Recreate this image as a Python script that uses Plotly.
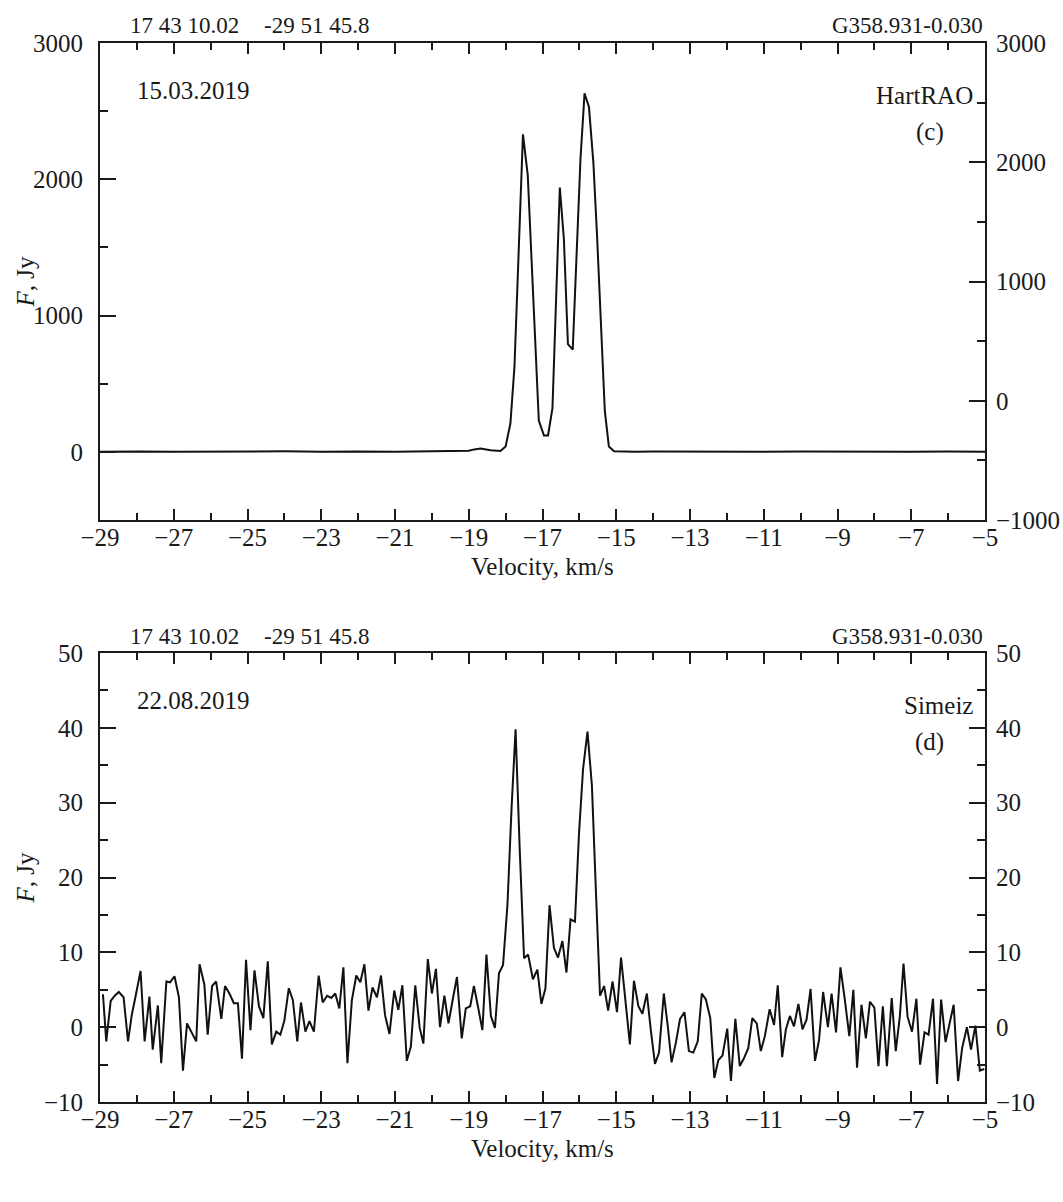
import plotly.graph_objects as go

# ---------------- data ----------------
# Panel (c): HartRAO 15.03.2019
vel_c = [-29.0, -28.0, -27.0, -26.0, -25.0, -24.0, -23.0, -22.0, -21.0, -20.0,
         -19.5, -19.0, -18.85, -18.68, -18.41, -18.14, -18.00, -17.87, -17.76,
         -17.53, -17.40, -17.16, -17.10, -16.96, -16.85, -16.73, -16.53, -16.42,
         -16.31, -16.18, -15.97, -15.86, -15.74, -15.62, -15.52, -15.31, -15.20,
         -15.06, -14.5, -14.0, -13.0, -12.0, -11.0, -10.0, -9.0, -8.0, -7.0, -6.0, -5.0]
flux_c = [0, 3, 0, 2, 0, 4, 0, 3, 0, 2,
          4, 8, 18, 25, 12, 6, 40, 210, 625,
          2330, 2030, 650, 230, 120, 120, 320, 1940, 1560,
          790, 750, 2150, 2630, 2530, 2120, 1580, 300, 40,
          5, 0, 2, 0, 3, 0, 2, 0, 3, 0, 2, 0]

# Panel (d): Simeiz 22.08.2019
vel_d = [-28.92, -28.83, -28.71, -28.60, -28.49, -28.36, -28.24, -28.14, -28.02, -27.90,
         -27.79, -27.66, -27.57, -27.43, -27.34, -27.20, -27.10, -26.98, -26.86, -26.75,
         -26.64, -26.53, -26.39, -26.30, -26.17, -26.08, -25.96, -25.85, -25.71, -25.61,
         -25.49, -25.37, -25.26, -25.15, -25.04, -24.92, -24.81, -24.69, -24.57, -24.45,
         -24.34, -24.22, -24.11, -24.00, -23.88, -23.77, -23.65, -23.55, -23.43, -23.32,
         -23.20, -23.07, -22.96, -22.84, -22.73, -22.62, -22.51, -22.40, -22.29, -22.17,
         -22.05, -21.94, -21.83, -21.72, -21.61, -21.49, -21.38, -21.27, -21.15, -21.02,
         -20.91, -20.80, -20.68, -20.57, -20.45, -20.33, -20.23, -20.11, -20.00, -19.89,
         -19.78, -19.66, -19.55, -19.43, -19.32, -19.19, -19.08, -18.96, -18.86, -18.74,
         -18.63, -18.52, -18.40, -18.29, -18.18, -18.07, -17.95, -17.84, -17.73, -17.62,
         -17.50, -17.39, -17.26, -17.14, -17.03, -16.92, -16.81, -16.69, -16.58, -16.46,
         -16.35, -16.24, -16.12, -16.01, -15.90, -15.78, -15.66, -15.55, -15.44, -15.33,
         -15.22, -15.10, -14.98, -14.87, -14.75, -14.63, -14.52, -14.40, -14.29, -14.17,
         -14.06, -13.95, -13.84, -13.71, -13.60, -13.50, -13.38, -13.27, -13.15, -13.03,
         -12.91, -12.79, -12.68, -12.57, -12.45, -12.34, -12.23, -12.12, -11.99, -11.89,
         -11.77, -11.65, -11.54, -11.42, -11.31, -11.19, -11.08, -10.97, -10.84, -10.72,
         -10.62, -10.50, -10.40, -10.29, -10.18, -10.06, -9.95, -9.84, -9.73, -9.61,
         -9.50, -9.39, -9.26, -9.16, -9.04, -8.92, -8.80, -8.68, -8.57, -8.47,
         -8.35, -8.23, -8.12, -8.00, -7.89, -7.77, -7.66, -7.53, -7.42, -7.31,
         -7.21, -7.10, -6.98, -6.86, -6.76, -6.64, -6.53, -6.41, -6.30, -6.19,
         -6.07, -5.96, -5.85, -5.73, -5.62, -5.49, -5.38, -5.26, -5.14, -5.02]
flux_d = [4.4, -1.9, 3.5, 4.2, 4.7, 4.0, -1.9, 1.6, 4.5, 7.5,
          -1.9, 4.1, -3.0, 2.9, -4.8, 6.1, 6.0, 6.8, 4.0, -5.8,
          0.5, -0.5, -1.9, 8.4, 5.7, -1.0, 5.5, 6.1, 1.1, 5.5,
          4.5, 3.2, 3.2, -4.2, 9.0, -0.4, 7.6, 2.8, 1.2, 8.8,
          -2.3, -0.6, -1.0, 0.9, 5.2, 3.6, -1.9, 3.3, -0.6, 0.8,
          -0.6, 6.9, 3.3, 4.2, 3.9, 4.5, 2.5, 8.0, -4.8, 3.6,
          6.9, 6.0, 8.4, 2.2, 5.3, 4.0, 6.9, 1.6, -0.9, 4.9,
          2.3, 5.6, -4.5, -2.6, 5.6, -0.1, -2.2, 9.1, 4.5, 7.8,
          0.0, 4.2, 0.5, 3.8, 6.7, -1.5, 2.5, 2.8, 5.5, 2.5,
          -0.4, 9.7, 1.5, -0.1, 7.2, 8.3, 16.4, 29.2, 39.8, 24.0,
          9.2, 9.7, 6.4, 7.7, 3.1, 5.2, 16.3, 10.6, 9.3, 11.5,
          7.3, 14.4, 14.1, 25.9, 34.5, 39.5, 32.3, 18.0, 4.2, 5.5,
          2.2, 6.1, 2.0, 9.3, 3.4, -2.3, 6.2, 2.8, 1.8, 4.5,
          -0.5, -4.9, -3.4, 4.5, 0.0, -4.7, -2.0, 1.1, 2.0, -3.2,
          -3.4, -1.9, 4.5, 3.7, 1.2, -6.8, -4.4, -3.8, -0.2, -7.2,
          1.1, -5.2, -4.2, -2.8, 1.2, 0.5, -3.2, -1.2, 2.4, 0.3,
          5.6, -4.0, -0.3, 1.5, 0.1, 3.1, -0.3, 1.0, 5.1, -4.5,
          -1.7, 4.7, 0.0, 4.5, -0.7, 8.0, 3.6, -1.2, 5.0, -5.4,
          3.0, -1.5, 3.4, 2.6, -5.2, 2.8, -5.2, 3.9, -3.2, 1.4,
          8.5, 1.4, -0.6, 3.8, -5.0, -0.7, -1.0, 3.8, -7.6, 3.7,
          -2.0, 0.5, 3.0, -7.2, -2.8, 0.0, -3.0, 0.2, -5.8, -5.6]

x_range = [-29, -5]
x_ticks = [-29, -27, -25, -23, -21, -19, -17, -15, -13, -11, -9, -7, -5]
yc_left_range = [-500, 3000]
yc_left_ticks = [0, 1000, 2000, 3000]
yc_right_range = [-1000, 3000]
yc_right_ticks = [-1000, 0, 1000, 2000, 3000]
yd_range = [-10, 50]
yd_ticks = [-10, 0, 10, 20, 30, 40, 50]

coord_ra = "17 43 10.02"
coord_dec = "-29 51 45.8"
source = "G358.931-0.030"
date_c, obs_c, lab_c = "15.03.2019", "HartRAO", "(c)"
date_d, obs_d, lab_d = "22.08.2019", "Simeiz", "(d)"
x_title = "Velocity, km/s"
y_title = "<i>F</i>, Jy"

# ---------------- layout helpers ----------------
W, H = 1063, 1202
FONT = "Liberation Serif, Times New Roman, serif"
INK = "#1a1a1a"
FS = 25

def px(x):
    return x / W

def py(y):
    return 1 - y / H

X0, X1 = 100, 985
TOP_C, BOT_C = 43, 520
TOP_D, BOT_D = 653, 1102

fig = go.Figure()
fig.add_trace(go.Scatter(x=vel_c, y=flux_c, mode="lines", xaxis="x", yaxis="y",
                         line=dict(color="#111", width=2), showlegend=False, hoverinfo="skip"))
fig.add_trace(go.Scatter(x=[None], y=[None], mode="lines", xaxis="x", yaxis="y3",
                         showlegend=False, hoverinfo="skip"))
fig.add_trace(go.Scatter(x=vel_d, y=flux_d, mode="lines", xaxis="x2", yaxis="y2",
                         line=dict(color="#111", width=2), showlegend=False, hoverinfo="skip"))
fig.add_trace(go.Scatter(x=[None], y=[None], mode="lines", xaxis="x2", yaxis="y4",
                         showlegend=False, hoverinfo="skip"))

tickfont = dict(family=FONT, size=FS, color=INK)

def xax(anchor):
    return dict(domain=[px(X0), px(X1)], anchor=anchor, range=x_range, automargin=False,
                tickmode="array", tickvals=x_ticks, ticks="inside", ticklen=11,
                tickwidth=1.5, tickcolor=INK, showline=True, linecolor=INK, linewidth=1.8,
                mirror="ticks", showgrid=False, zeroline=False, tickfont=tickfont,
                ticklabelstandoff=-6,
                minor=dict(dtick=1, tick0=-29, ticks="inside", ticklen=7, tickwidth=1.5,
                           tickcolor=INK, showgrid=False))

def yax(dom, rng, vals, minor_dtick, minor_tick0, side="left", overlay=None, anchor="x",
        standoff=10):
    d = dict(range=rng, tickmode="array", tickvals=vals, ticks="inside", ticklen=16,
             tickwidth=1.5, tickcolor=INK, showline=True, linecolor=INK, linewidth=1.8,
             showgrid=False, zeroline=False, tickfont=tickfont, side=side, anchor=anchor,
             ticklabelstandoff=standoff, automargin=False,
             minor=dict(dtick=minor_dtick, tick0=minor_tick0, ticks="inside", ticklen=8,
                        tickwidth=1.5, tickcolor=INK, showgrid=False))
    if overlay:
        d["overlaying"] = overlay
    else:
        d["domain"] = dom
    return d

dom_c = [py(BOT_C), py(TOP_C)]
dom_d = [py(BOT_D), py(TOP_D)]

fig.update_layout(
    width=W, height=H, margin=dict(l=0, r=0, t=0, b=0, pad=0, autoexpand=False),
    paper_bgcolor="white", plot_bgcolor="white",
    xaxis=xax("y"),
    xaxis2=xax("y2"),
    yaxis=yax(dom_c, yc_left_range, yc_left_ticks, 500, 0),
    yaxis3=yax(None, yc_right_range, yc_right_ticks, 500, 0, side="right", overlay="y",
               anchor="x", standoff=4),
    yaxis2=yax(dom_d, yd_range, yd_ticks, 5, 0, anchor="x2"),
    yaxis4=yax(None, yd_range, yd_ticks, 5, 0, side="right", overlay="y2", anchor="x2",
               standoff=4),
)

ann = []
def text(x, y, s, xanchor="left", size=FS, angle=0):
    ann.append(dict(x=px(x), y=py(y), xref="paper", yref="paper", text=s, showarrow=False,
                    xanchor=xanchor, yanchor="middle", textangle=angle,
                    font=dict(family=FONT, size=size, color=INK)))

for top, bot, date, obs, lab in [(TOP_C, BOT_C, date_c, obs_c, lab_c),
                                  (TOP_D, BOT_D, date_d, obs_d, lab_d)]:
    text(128, top - 17, coord_ra, size=23)
    text(262, top - 17, coord_dec, size=23)
    text(X1, top - 17, source, xanchor="right", size=23)
    text(135, top + 47, date)
    text(975, top + 52, obs, xanchor="right")
    text(946, top + 89, lab, xanchor="right")
    text((X0 + X1) / 2, bot + 46, x_title, xanchor="center")
    text(25, (top + bot) / 2, y_title, xanchor="center", angle=-90)

fig.update_layout(annotations=ann)
fig.write_html("out.html")
